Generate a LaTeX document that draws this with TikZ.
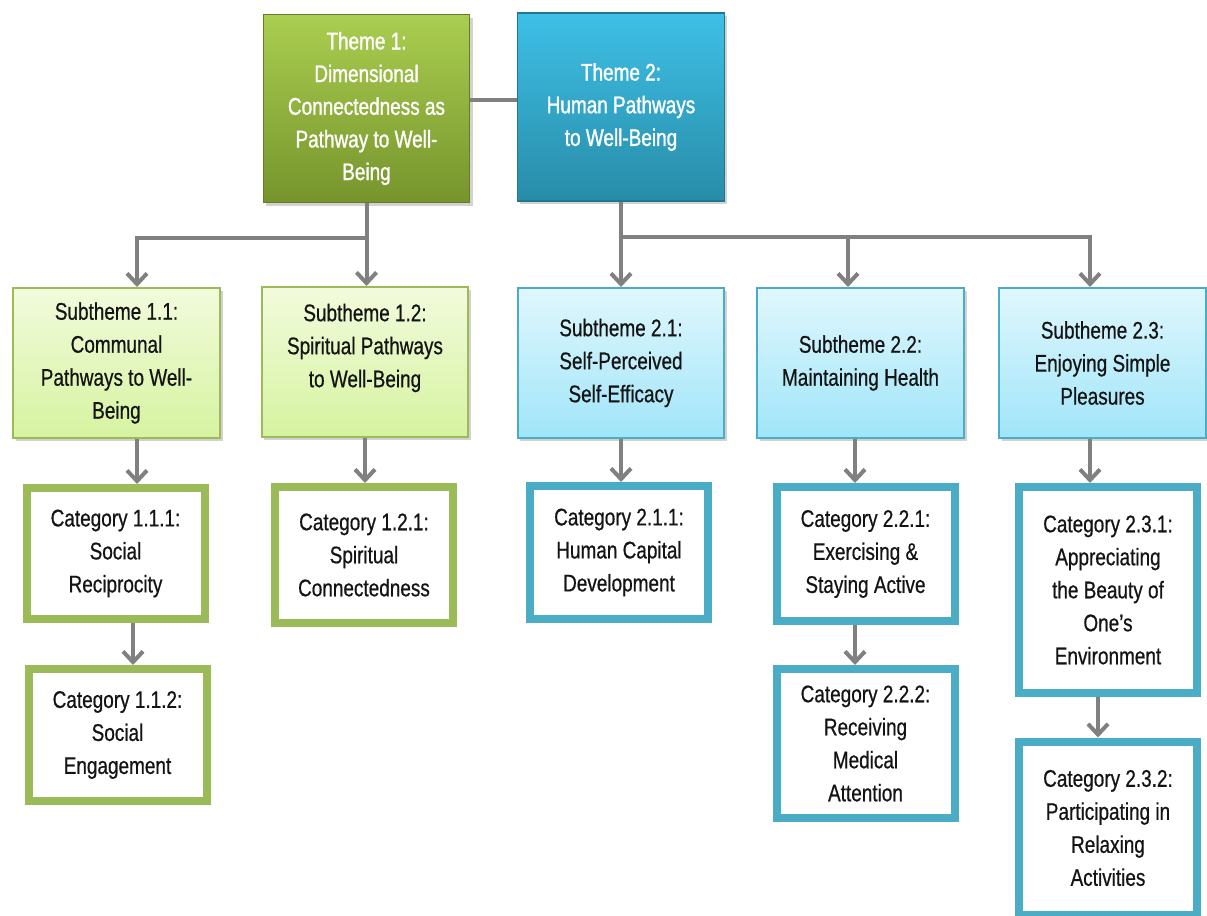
\documentclass[tikz,border=0pt]{standalone}
\usepackage{fontspec}
\setmainfont{Liberation Sans}[FakeStretch=0.79]
\newfontfamily\narfont{Liberation Sans}[FakeStretch=0.79,FakeBold=0.6]
\newfontfamily\narthemefont{Liberation Sans}[FakeStretch=0.79,FakeBold=1.2]
\usetikzlibrary{arrows.meta,calc,shadows}
\definecolor{gline}{RGB}{128,128,128}
\definecolor{tgtop}{RGB}{170,206,80}
\definecolor{tgbot}{RGB}{118,148,44}
\definecolor{tbtop}{RGB}{62,192,230}
\definecolor{tbbot}{RGB}{40,140,168}
\definecolor{sgtop}{RGB}{242,251,220}
\definecolor{sgbot}{RGB}{214,243,160}
\definecolor{sbtop}{RGB}{224,247,253}
\definecolor{sbbot}{RGB}{160,229,249}
\definecolor{gborder}{RGB}{155,187,89}
\definecolor{bborder}{RGB}{75,172,198}
\definecolor{txt}{RGB}{20,20,20}
\begin{document}
\begin{tikzpicture}[x=0.75pt,y=-0.75pt,
  box/.style={rectangle, align=center, text=txt, font=\narfont\fontsize{18}{24.75}\selectfont, inner sep=0pt},
  shad/.style={drop shadow={opacity=0.35,shadow xshift=2pt,shadow yshift=-2.5pt}},
  theme/.style={box, text=white, font=\narthemefont\fontsize{18}{24.5}\selectfont, minimum width=155pt, minimum height=141pt, shad, line width=0.8pt},
  themeg/.style={theme, top color=tgtop, bottom color=tgbot, draw=tgbot!85!black},
  themeb/.style={theme, top color=tbtop, bottom color=tbbot, draw=tbbot!85!black},
  sub/.style={box, minimum width=155pt, minimum height=112.5pt, line width=1.5pt, shad},
  subg/.style={sub, top color=sgtop, bottom color=sgbot, draw=gborder},
  subb/.style={sub, top color=sbtop, bottom color=sbbot, draw=bborder},
  cat/.style={box, fill=white, line width=6pt, minimum width=133.5pt},
  catg/.style={cat, draw=gborder},
  catb/.style={cat, draw=bborder},
  conn/.style={draw=gline, line width=3pt},
  arr/.style={conn, -{Straight Barb[length=8pt,width=15pt]}}
]
\fill[white] (0,0) rectangle (1207,916);
\useasboundingbox (0,0) rectangle (1207,916);

% themes
\node[themeg] (t1) at (366.5,108.5) {Theme 1:\\Dimensional\\Connectedness as\\Pathway to Well-\\Being};
\node[themeb] (t2) at (621,107) {Theme 2:\\Human Pathways\\to Well-Being};

% subthemes
\node[subg] (s11) at (116.5,363) {Subtheme 1.1:\\Communal\\Pathways to Well-\\Being};
\node[subg] (s12) at (365,362) {Subtheme 1.2:\\Spiritual Pathways\\to Well-Being\\\mbox{}};
\node[subb] (s21) at (621,363) {Subtheme 2.1:\\Self-Perceived\\Self-Efficacy};
\node[subb] (s22) at (860.5,363) {Subtheme 2.2:\\Maintaining Health};
\node[subb] (s23) at (1102.5,363) {Subtheme 2.3:\\Enjoying Simple\\Pleasures};

% categories
\node[catg, minimum height=98.25pt] (c111) at (115.5,553.5) {Category 1.1.1:\\Social\\Reciprocity};
\node[catg, minimum height=99pt] (c112) at (117.5,735) {Category 1.1.2:\\Social\\Engagement};
\node[catg, minimum height=102pt] (c121) at (364,555) {Category 1.2.1:\\Spiritual\\Connectedness};
\node[catb, minimum height=99.75pt] (c211) at (619,552.5) {Category 2.1.1:\\Human Capital\\Development};
\node[catb, minimum height=100.5pt] (c221) at (865.5,554) {Category 2.2.1:\\Exercising \&\\Staying Active};
\node[catb, minimum height=111.75pt] (c222) at (865.5,743.5) {Category 2.2.2:\\Receiving\\Medical\\Attention};
\node[catb, minimum height=154.5pt] (c231) at (1108,590) {Category 2.3.1:\\Appreciating\\the Beauty of\\One’s\\Environment};
\node[catb, minimum height=129.75pt] (c232) at (1108,828) {Category 2.3.2:\\Participating in\\Relaxing\\Activities};

% theme link
\coordinate (tc) at ($(t1.east)+(0,-8.5)$);
\draw[conn] (tc) -- (tc -| t2.west);

% theme 1 bus
\coordinate (b1) at ($(t1.south)+(0,35)$);
\draw[conn] (t1.south) -- (b1);
\draw[arr] (b1) -| ($(s11.north)+(20.5,0)$);
\draw[arr] (b1) -- (b1 |- s12.north);

% theme 2 bus
\coordinate (b2) at ($(t2.south)+(0,35)$);
\draw[conn] (t2.south) -- (b2);
\draw[arr] (b2) -- (b2 |- s21.north);
\draw[arr] (b2) -| ($(s22.north)+(-12.5,0)$);
\draw[arr] (b2) -| ($(s23.north)+(-12.5,0)$);

% subtheme to category
\coordinate (a11) at ($(s11.south)+(20.5,0)$);
\draw[arr] (a11) -- (a11 |- c111.north);
\coordinate (a12) at (s12.south);
\draw[arr] (a12) -- (a12 |- c121.north);
\coordinate (a21) at (s21.south);
\draw[arr] (a21) -- (a21 |- c211.north);
\coordinate (a22) at ($(s22.south)+(-5.5,0)$);
\draw[arr] (a22) -- (a22 |- c221.north);
\coordinate (a23) at ($(s23.south)+(-12.5,0)$);
\draw[arr] (a23) -- (a23 |- c231.north);

% category to category
\coordinate (a111) at ($(c111.south)+(17.5,0)$);
\draw[arr] (a111) -- (a111 |- c112.north);
\coordinate (a221) at ($(c221.south)+(-10.5,0)$);
\draw[arr] (a221) -- (a221 |- c222.north);
\coordinate (a231) at ($(c231.south)+(-10,0)$);
\draw[arr] (a231) -- (a231 |- c232.north);
\end{tikzpicture}
\end{document}
